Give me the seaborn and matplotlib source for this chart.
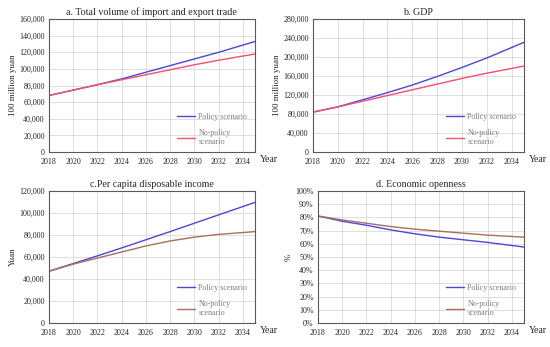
import pandas as pd
import matplotlib.pyplot as plt
import matplotlib.ticker as mticker
import seaborn as sns

# years (even years plus the 2035 end point)
years = [2018, 2020, 2022, 2024, 2026, 2028, 2030, 2032, 2035]

trade_policy = [68000, 74500, 81000, 88000, 96000, 104000, 112000, 120000, 133000]
trade_nopolicy = [68000, 74500, 81000, 87000, 93000, 99000, 105000, 110500, 118000]

gdp_policy = [84000, 95000, 110000, 125000, 141000, 159000, 178000, 198000, 231000]
gdp_nopolicy = [84000, 95000, 107000, 119000, 131000, 143000, 155000, 166000, 181000]

income_policy = [47000, 54000, 61000, 68200, 75600, 83000, 90600, 98200, 109500]
income_nopolicy = [47000, 53500, 59000, 64500, 70000, 74500, 78000, 80500, 83000]

open_policy = [0.81, 0.77, 0.74, 0.705, 0.675, 0.65, 0.63, 0.61, 0.575]
open_nopolicy = [0.81, 0.78, 0.755, 0.73, 0.71, 0.695, 0.68, 0.665, 0.65]

scenarios = ["Policy scenario", "No-policy\nscenario"]
titles = ["a. Total volume of import and export trade", "b. GDP",
          "c.Per capita disposable income", "d. Economic openness"]
ylabels = ["100 million yuan", "100 million yuan", "Yuan", "%"]


def to_long(policy, nopolicy):
    df = pd.DataFrame({"year": years * 2,
                       "value": policy + nopolicy,
                       "scenario": [scenarios[0]] * len(years) + [scenarios[1]] * len(years)})
    return df


panels = [
    (to_long(trade_policy, trade_nopolicy), [0.089, 0.562, 0.3745, 0.383], 160000, 20000, "#ff4d6a"),
    (to_long(gdp_policy, gdp_nopolicy), [0.569, 0.562, 0.3836, 0.383], 280000, 40000, "#ff4d6a"),
    (to_long(income_policy, income_nopolicy), [0.089, 0.069, 0.3745, 0.381], 120000, 20000, "#a8705a"),
    (to_long(open_policy, open_nopolicy), [0.578, 0.069, 0.3745, 0.381], 1.0, 0.1, "#a8705a"),
]

sns.set_style("whitegrid")
plt.rcParams["font.family"] = ["Liberation Serif", "DejaVu Serif"]

fig = plt.figure(figsize=(5.5, 3.47), dpi=100)

for i, (df, pos, ymax, ystep, nocolor) in enumerate(panels):
    ax = fig.add_axes(pos)
    sns.lineplot(data=df, x="year", y="value", hue="scenario", ax=ax,
                 palette={scenarios[0]: "#4a46e0", scenarios[1]: nocolor},
                 linewidth=1.0)
    ax.set_xlim(2018, 2035)
    ax.set_ylim(0, ymax)
    ax.set_xticks(range(2018, 2035, 2))
    ax.yaxis.set_major_locator(mticker.MultipleLocator(ystep))
    if i == 3:
        ax.yaxis.set_major_formatter(mticker.FuncFormatter(lambda v, p: f"{v * 100:.0f}%"))
    else:
        ax.yaxis.set_major_formatter(mticker.FuncFormatter(lambda v, p: f"{v:,.0f}"))
    ax.tick_params(axis="x", labelsize=5.8, pad=4, length=0)
    ax.tick_params(axis="y", labelsize=5.8, pad=3, length=0)
    ax.grid(True, color="#d9d9d9", linewidth=0.6)
    for s in ax.spines.values():
        s.set_color("#595959")
        s.set_linewidth(0.8)
    ax.set_xlabel("")
    ax.set_ylabel(ylabels[i], fontsize=6.5, labelpad=2)
    ax.set_title(titles[i], fontsize=7.2, pad=3)
    ax.text(1.025, -0.06, "Year", transform=ax.transAxes, fontsize=7,
            ha="left", va="center")
    leg = ax.legend(loc="lower right", frameon=False, fontsize=5.8,
                    handlelength=2.2, labelspacing=1.0, borderaxespad=0.3,
                    handletextpad=0.4, bbox_to_anchor=(0.99, 0.0))
    for t in leg.get_texts():
        t.set_color("#7f7f7f")

fig.savefig("out.png", dpi=100)
